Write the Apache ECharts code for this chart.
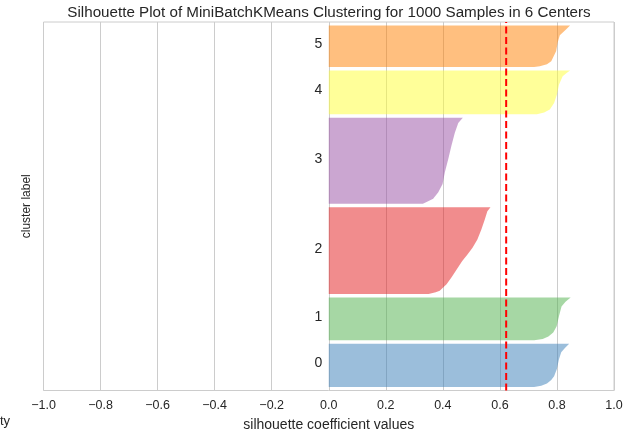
<!DOCTYPE html>
<html>
<head>
<meta charset="utf-8">
<script src="https://cdn.jsdelivr.net/npm/echarts@6/dist/echarts.min.js"></script>
<style>
html,body{margin:0;padding:0;background:#fff;}
#chart{width:628px;height:437px;}
</style>
</head>
<body>
<div id="chart"></div>
<script>
// ---- data ----
const titleText = 'Silhouette Plot of MiniBatchKMeans Clustering for 1000 Samples in 6 Centers';
const clusterLabels = ['0', '1', '2', '3', '4', '5'];
const clusterSizes = [126, 124, 252, 250, 127, 121];
const clusterColors = ['#377eb8', '#4daf4a', '#e41a1c', '#984ea3', '#ffff33', '#ff7f00'];
const xTicks = [-1.0, -0.8, -0.6, -0.4, -0.2, 0.0, 0.2, 0.4, 0.6, 0.8, 1.0];
const avgSilhouette = 0.622;
// silhouette profiles: [fraction of cluster (bottom->top), silhouette value]
const silhouette0 = [[0,0.72],[0.03,0.745],[0.08,0.765],[0.16,0.78],[0.25,0.79],[0.42,0.80],[0.64,0.807],[0.80,0.815],[0.9,0.828],[1,0.843]];
const silhouette1 = [[0,0.72],[0.03,0.75],[0.09,0.77],[0.18,0.787],[0.33,0.799],[0.56,0.807],[0.79,0.816],[0.9,0.83],[1,0.848]];
const silhouette2 = [[0,0.35],[0.02,0.375],[0.039,0.389],[0.114,0.413],[0.191,0.43],[0.286,0.449],[0.382,0.468],[0.458,0.487],[0.534,0.504],[0.63,0.521],[0.744,0.535],[0.858,0.547],[0.954,0.556],[1,0.567]];
const silhouette3 = [[0,0.33],[0.02,0.343],[0.058,0.366],[0.135,0.384],[0.23,0.399],[0.366,0.407],[0.52,0.419],[0.674,0.43],[0.827,0.442],[0.94,0.454],[1,0.47]];
const silhouette4 = [[0,0.73],[0.04,0.755],[0.11,0.775],[0.26,0.79],[0.45,0.80],[0.676,0.807],[0.87,0.82],[0.95,0.835],[1,0.846]];
const silhouette5 = [[0,0.72],[0.02,0.74],[0.07,0.765],[0.14,0.78],[0.38,0.797],[0.6,0.803],[0.765,0.81],[0.88,0.828],[1,0.846]];
const profiles = [silhouette0, silhouette1, silhouette2, silhouette3, silhouette4, silhouette5];

// ---- layout of clusters along y (yellowbrick style: 10 unit gaps) ----
const gap = 10;
const yLowers = [];
let acc = gap;
clusterSizes.forEach(function (n) { yLowers.push(acc); acc += n + gap; });
const yMax = acc;

const FONT = "'Liberation Sans', Arial, sans-serif";
const TEXT = '#262626';

const chart = echarts.init(document.getElementById('chart'), null, {renderer: 'canvas'});
chart.setOption({
  animation: false,
  backgroundColor: '#ffffff',
  title: {
    text: titleText,
    left: 329,
    textAlign: 'center',
    top: 5,
    padding: 0,
    textStyle: {fontFamily: FONT, fontSize: 15.2, fontWeight: 'normal', color: TEXT}
  },
  grid: {
    left: 43.5, right: 14, top: 22, bottom: 45.3,
    show: true, borderColor: '#cccccc', borderWidth: 1, backgroundColor: 'transparent'
  },
  xAxis: {
    type: 'value', min: -1, max: 1, interval: 0.2,
    name: 'silhouette coefficient values',
    nameLocation: 'middle', nameGap: 27.5,
    nameTextStyle: {fontFamily: FONT, fontSize: 14, color: TEXT},
    axisLine: {show: false}, axisTick: {show: false},
    axisLabel: {
      margin: 9, fontFamily: FONT, fontSize: 12.5, color: TEXT,
      formatter: function (v) {
        const r = Math.round(v * 10) / 10;
        const s = Math.abs(r).toFixed(1);
        return r < 0 ? '\u2212' + s : s;
      }
    },
    splitLine: {show: true, lineStyle: {color: '#cccccc', width: 1}}
  },
  yAxis: {
    type: 'value', min: 0, max: yMax,
    name: 'cluster label', nameLocation: 'middle', nameGap: 10.5,
    nameTextStyle: {fontFamily: FONT, fontSize: 12, color: TEXT},
    axisLine: {show: false}, axisTick: {show: false},
    axisLabel: {show: false}, splitLine: {show: false}
  },
  graphic: [{
    type: 'text', left: 0, top: 415,
    style: {text: 'ty', font: '13px ' + FONT, fill: TEXT}
  }],
  series: [{
    type: 'custom',
    clip: false,
    data: clusterLabels.map(function (l, i) { return [i, yLowers[i]]; }),
    encode: {x: -1, y: -1},
    renderItem: function (params, api) {
      const i = api.value(0);
      const yl = yLowers[i];
      const n = clusterSizes[i];
      const pts = [api.coord([0, yl])];
      profiles[i].forEach(function (p) { pts.push(api.coord([p[1], yl + p[0] * n])); });
      pts.push(api.coord([0, yl + n]));
      const lab = api.coord([-0.05, yl + 0.5 * n]);
      return {
        type: 'group',
        children: [{
          type: 'polygon',
          shape: {points: pts},
          style: {fill: clusterColors[i], opacity: 0.5, stroke: null}
        }, {
          type: 'text',
          x: lab[0], y: lab[1] - 2,
          style: {text: clusterLabels[i], font: '14px ' + FONT, fill: TEXT, align: 'left', verticalAlign: 'middle'}
        }]
      };
    }
  }, {
    type: 'line',
    data: [[avgSilhouette, 0], [avgSilhouette, yMax]],
    symbol: 'none',
    lineStyle: {color: '#ff0000', width: 2, type: [7, 3.5]},
    z: 5
  }]
});
</script>
</body>
</html>
